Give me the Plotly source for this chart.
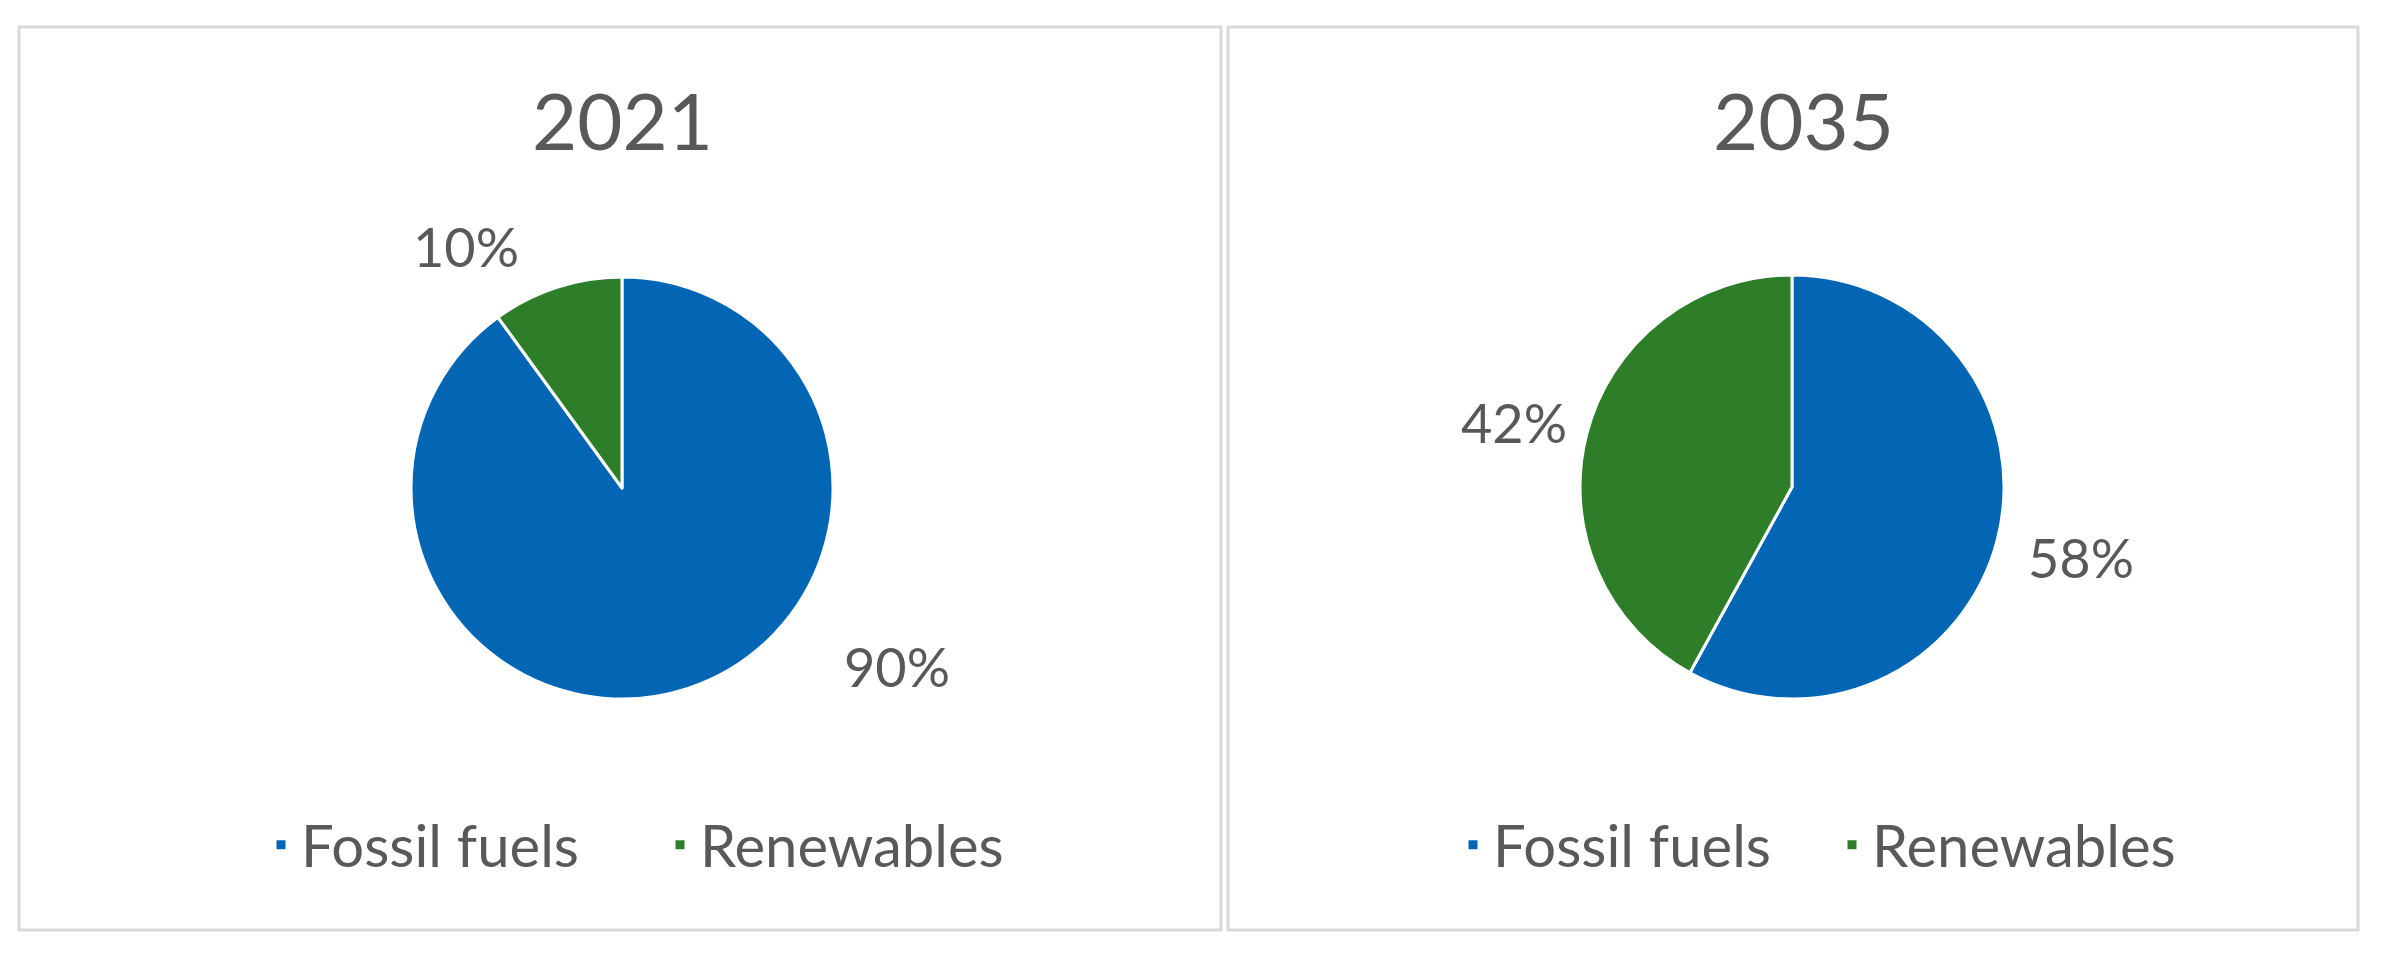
import plotly.graph_objects as go

# data
years = ["2021", "2035"]
sources = ["Fossil fuels", "Renewables"]
share_2021 = [90, 10]
share_2035 = [58, 42]

W, H = 2387, 969
FONT = "Lato"
GREY = "#595959"
COLORS = ["#0266b4", "#2e7d28"]


def px_x(x):
    return x / W


def px_y(y):
    return 1 - y / H


def pie_domain(cx, cy, r):
    return dict(x=[px_x(cx - r), px_x(cx + r)], y=[px_y(cy + r), px_y(cy - r)])


fig = go.Figure()

panels = [
    dict(values=share_2021, legend="legend", center=(622, 488), r=211,
         box=(19, 1221), title_x=622,
         label_pos=[(897, 666), (466, 247)]),
    dict(values=share_2035, legend="legend2", center=(1792, 487), r=212,
         box=(1228, 2358), title_x=1804,
         label_pos=[(2081, 557), (1514, 422)]),
]

annotations = []
shapes = []
for i, (year, p) in enumerate(zip(years, panels)):
    # pie legends dedupe slices by label across traces, so the second
    # chart gets an (invisible) trailing space to keep its own legend
    fig.add_trace(go.Pie(
        labels=[s + " " * i for s in sources],
        values=p["values"],
        sort=False,
        direction="clockwise",
        rotation=0,
        textinfo="none",
        hoverinfo="label+percent",
        marker=dict(colors=COLORS, line=dict(color="white", width=3)),
        domain=pie_domain(p["center"][0], p["center"][1], p["r"]),
        legend=p["legend"],
    ))

    # panel frame
    shapes.append(dict(
        type="rect", xref="paper", yref="paper",
        x0=px_x(p["box"][0]), x1=px_x(p["box"][1]),
        y0=px_y(930), y1=px_y(27),
        line=dict(color="#d9d9d9", width=3),
        fillcolor="rgba(0,0,0,0)", layer="below",
    ))

    # chart title
    annotations.append(dict(
        text=year, x=px_x(p["title_x"]), y=px_y(120),
        xref="paper", yref="paper", xanchor="center", yanchor="middle",
        showarrow=False, font=dict(family=FONT, size=78, color=GREY),
    ))

    # data labels
    for v, (lx, ly) in zip(p["values"], p["label_pos"]):
        annotations.append(dict(
            text=f"{v}%", x=px_x(lx), y=px_y(ly),
            xref="paper", yref="paper", xanchor="center", yanchor="middle",
            showarrow=False, font=dict(family=FONT, size=54, color=GREY),
        ))

legend_style = dict(
    orientation="h",
    xanchor="left",
    yanchor="middle",
    y=px_y(845),
    font=dict(family=FONT, size=58, color=GREY),
    bgcolor="rgba(0,0,0,0)",
)

fig.update_layout(
    width=W,
    height=H,
    margin=dict(l=0, r=0, t=0, b=0),
    paper_bgcolor="white",
    plot_bgcolor="white",
    showlegend=True,
    legend=dict(x=px_x(261), entrywidth=354, **legend_style),
    legend2=dict(x=px_x(1453), entrywidth=334, **legend_style),
    annotations=annotations,
    shapes=shapes,
)

fig.write_html("out.html", config={"displayModeBar": False},
               post_script="document.body.style.margin='0';")
